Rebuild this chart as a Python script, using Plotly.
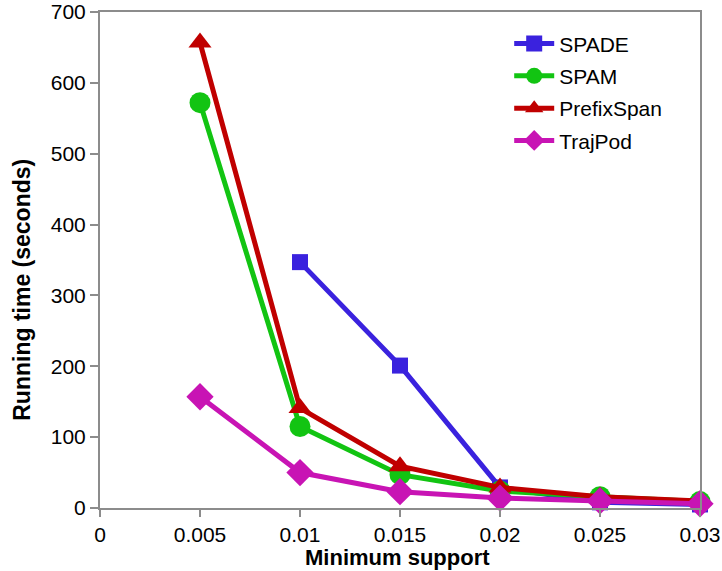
import plotly.graph_objects as go

# Minimum support thresholds and running times (seconds)
min_support = [0.005, 0.01, 0.015, 0.02, 0.025, 0.03]
spade = [None, 347, 201, 29, 8, 5]
spam = [572, 115, 47, 24, 16, 9]
prefixspan = [657, 141, 59, 29, 16, 10]
trajpod = [157, 50, 23, 14, 10, 6]

x_ticks = [0, 0.005, 0.01, 0.015, 0.02, 0.025, 0.03]
x_tick_text = ["0", "0.005", "0.01", "0.015", "0.02", "0.025", "0.03"]
y_ticks = [0, 100, 200, 300, 400, 500, 600, 700]

series = [
    ("SPADE", spade, "#3A22DE", "square", 16),
    ("SPAM", spam, "#12C412", "circle", 21),
    ("PrefixSpan", prefixspan, "#C00000", "triangle-up", 20),
    ("TrajPod", trajpod, "#C814B4", "diamond", 21),
]

fig = go.Figure()
for name, values, color, symbol, size in series:
    fig.add_trace(go.Scatter(
        x=min_support, y=values, name=name, mode="lines+markers",
        line=dict(color=color, width=5),
        marker=dict(symbol=symbol, size=size, color=color),
        legendgroup=name, cliponaxis=False,
    ))

axis_color = "#8C8C8C"
fig.update_layout(
    width=722, height=571,
    margin=dict(l=100, r=22, t=12, b=63, autoexpand=False),
    paper_bgcolor="white", plot_bgcolor="white",
    font=dict(family="Liberation Sans, Arial, sans-serif", size=21, color="black"),
    showlegend=True,
    legend=dict(
        x=0.682, y=0.977, xanchor="left", yanchor="top",
        bgcolor="rgba(0,0,0,0)", font=dict(size=21),
        tracegroupgap=2, itemwidth=40,
    ),
    xaxis=dict(
        range=[0, 0.03], tickvals=x_ticks, ticktext=x_tick_text,
        showgrid=False, zeroline=False, automargin=False,
        showline=True, linecolor=axis_color, linewidth=2, mirror=True,
        ticks="outside", ticklen=7, tickwidth=2, tickcolor=axis_color,
    ),
    yaxis=dict(
        range=[0, 700], tickvals=y_ticks,
        showgrid=False, zeroline=False, automargin=False,
        showline=True, linecolor=axis_color, linewidth=2, mirror=True,
        ticks="outside", ticklen=8, tickwidth=2, tickcolor=axis_color,
    ),
    annotations=[
        dict(text="<b>Minimum support</b>", xref="paper", yref="paper",
             x=0.495, y=0, yshift=-49, xanchor="center", yanchor="middle",
             showarrow=False, font=dict(size=22)),
        dict(text="<b>Running time (seconds)</b>", xref="paper", yref="paper",
             x=0, xshift=-78, y=0.44, xanchor="center", yanchor="middle",
             textangle=-90, showarrow=False, font=dict(size=23)),
    ],
)

fig.write_html("out.html")
